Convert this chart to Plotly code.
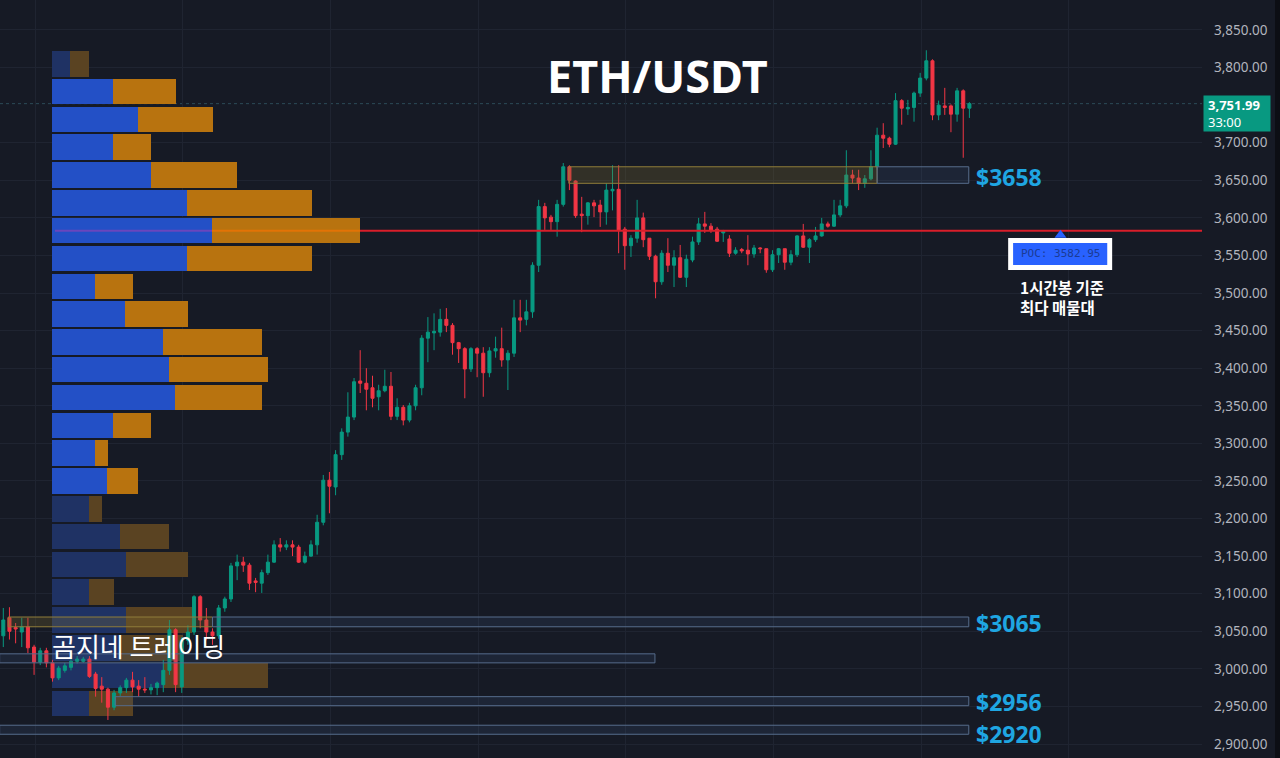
import plotly.graph_objects as go

# ---------------- hourly candles (ETH/USDT) ----------------
opens = [3044, 3068, 3055, 3049, 3056, 3029, 3009, 3024, 3008, 2988,
         2998, 3002, 3010, 3010, 3013, 2993, 2977, 2973, 2949, 2968,
         2975, 2985, 2977, 2973, 2972, 2975, 2979, 2998, 3052, 2976,
         3038, 3049, 3096, 3065, 3049, 3044, 3081, 3093, 3137, 3142,
         3138, 3117, 3114, 3128, 3142, 3165, 3162, 3165, 3162, 3142,
         3150, 3165, 3195, 3251, 3242, 3285, 3315, 3335, 3383, 3380,
         3374, 3362, 3370, 3376, 3336, 3348, 3331, 3350, 3374, 3440,
         3447, 3448, 3465, 3457, 3434, 3426, 3399, 3426, 3420, 3394,
         3423, 3426, 3411, 3420, 3467, 3465, 3475, 3537, 3615, 3601,
         3595, 3618, 3668, 3649, 3605, 3603, 3620, 3617, 3608, 3636,
         3638, 3585, 3563, 3573, 3600, 3573, 3549, 3515, 3553, 3537,
         3547, 3521, 3544, 3568, 3592, 3589, 3585, 3580, 3572, 3553,
         3558, 3557, 3552, 3560, 3559, 3531, 3551, 3559, 3541, 3551,
         3576, 3561, 3571, 3576, 3592, 3589, 3604, 3616, 3657, 3653,
         3646, 3652, 3668, 3710, 3706, 3698, 3756, 3745, 3747, 3766,
         3786, 3809, 3737, 3749, 3749, 3738, 3769, 3746]
highs = [3081, 3082, 3061, 3068, 3068, 3032, 3028, 3028, 3012, 3004,
         3008, 3014, 3017, 3016, 3017, 2996, 2989, 2975, 2972, 2978,
         2988, 2996, 2985, 2989, 2980, 2983, 3012, 3065, 3054, 3042,
         3058, 3098, 3098, 3081, 3054, 3085, 3096, 3141, 3152, 3149,
         3141, 3121, 3132, 3152, 3171, 3174, 3171, 3171, 3165, 3156,
         3171, 3205, 3258, 3262, 3291, 3320, 3368, 3387, 3424, 3400,
         3390, 3378, 3398, 3395, 3360, 3351, 3354, 3378, 3444, 3468,
         3473, 3479, 3480, 3460, 3435, 3428, 3428, 3428, 3428, 3428,
         3442, 3454, 3424, 3491, 3491, 3491, 3541, 3624, 3620, 3604,
         3624, 3673, 3670, 3650, 3628, 3621, 3624, 3624, 3646, 3670,
         3670, 3588, 3577, 3624, 3607, 3573, 3551, 3557, 3573, 3557,
         3564, 3551, 3575, 3600, 3608, 3593, 3588, 3584, 3577, 3561,
         3560, 3577, 3564, 3561, 3559, 3557, 3560, 3559, 3557, 3577,
         3592, 3573, 3588, 3600, 3595, 3624, 3624, 3690, 3664, 3664,
         3657, 3690, 3720, 3726, 3708, 3766, 3758, 3757, 3768, 3793,
         3823, 3811, 3756, 3773, 3751, 3773, 3771, 3754]
lows = [3029, 3039, 3034, 3029, 3021, 2992, 3005, 3002, 2983, 2985,
        2995, 2998, 3007, 3008, 2988, 2963, 2955, 2932, 2945, 2964,
        2968, 2969, 2963, 2968, 2966, 2965, 2969, 2992, 2969, 2968,
        3032, 3045, 3054, 3038, 3032, 3040, 3076, 3089, 3118, 3129,
        3105, 3102, 3101, 3125, 3141, 3156, 3158, 3150, 3141, 3140,
        3149, 3152, 3191, 3207, 3231, 3278, 3309, 3331, 3367, 3344,
        3348, 3344, 3368, 3331, 3331, 3324, 3328, 3344, 3364, 3408,
        3424, 3442, 3448, 3418, 3407, 3360, 3395, 3388, 3362, 3388,
        3414, 3402, 3371, 3415, 3448, 3457, 3467, 3528, 3584, 3584,
        3575, 3615, 3637, 3600, 3581, 3591, 3601, 3588, 3591, 3610,
        3553, 3531, 3548, 3567, 3561, 3544, 3493, 3511, 3528, 3508,
        3520, 3508, 3541, 3564, 3580, 3580, 3568, 3568, 3548, 3551,
        3553, 3537, 3547, 3553, 3527, 3528, 3540, 3531, 3537, 3548,
        3560, 3540, 3568, 3575, 3587, 3588, 3601, 3613, 3646, 3637,
        3640, 3650, 3664, 3693, 3694, 3697, 3724, 3737, 3728, 3761,
        3783, 3730, 3730, 3737, 3714, 3728, 3680, 3733]
closes = [3065, 3050, 3053, 3056, 3028, 3009, 3024, 3008, 2988, 3001,
          3004, 3010, 3013, 3013, 2990, 2974, 2973, 2949, 2968, 2975,
          2985, 2976, 2973, 2972, 2975, 2981, 2998, 3052, 2979, 3038,
          3049, 3096, 3065, 3049, 3044, 3081, 3093, 3137, 3142, 3138,
          3114, 3115, 3128, 3142, 3165, 3162, 3165, 3162, 3142, 3150,
          3165, 3195, 3251, 3243, 3285, 3315, 3335, 3382, 3380, 3372,
          3360, 3370, 3376, 3336, 3348, 3331, 3350, 3374, 3440, 3448,
          3449, 3465, 3457, 3434, 3426, 3399, 3426, 3420, 3394, 3423,
          3426, 3411, 3420, 3467, 3464, 3475, 3537, 3615, 3600, 3595,
          3618, 3668, 3650, 3603, 3603, 3620, 3616, 3608, 3637, 3638,
          3584, 3563, 3573, 3600, 3571, 3549, 3515, 3553, 3537, 3547,
          3521, 3545, 3568, 3592, 3589, 3584, 3569, 3582, 3553, 3557,
          3556, 3552, 3560, 3559, 3531, 3551, 3559, 3541, 3551, 3576,
          3561, 3571, 3576, 3592, 3589, 3604, 3616, 3657, 3653, 3646,
          3652, 3668, 3710, 3706, 3698, 3756, 3746, 3747, 3766, 3786,
          3809, 3737, 3750, 3747, 3738, 3769, 3746, 3751.99]
candle_idx = list(range(len(opens)))

# ---------------- volume profile (buy / sell per price row) ----------------
profile_prices = [3805, 3768, 3731, 3694, 3657, 3620, 3583, 3546, 3509, 3472, 3435, 3398,
                  3361, 3324, 3287, 3250, 3213, 3176, 3139, 3102, 3065, 3028, 2991, 2954]
buy_vol = [18, 61, 86, 61, 99, 135, 160, 135, 43, 73, 111, 117,
           123, 61, 43, 55, 37, 68, 74, 37, 74, 68, 111, 37]
sell_vol = [19, 63, 75, 38, 86, 125, 148, 125, 38, 63, 99, 99,
            87, 38, 13, 31, 13, 49, 62, 25, 66, 63, 105, 44]
in_value_area = [False] + [True] * 15 + [False] * 8
poc_price = 3582.95
last_price = 3751.99
countdown = "33:00"

# price-axis tick labels (3,750 sits under the last-price tag)
tick_values = [2900, 2950, 3000, 3050, 3100, 3150, 3200, 3250, 3300, 3350,
               3400, 3450, 3500, 3550, 3600, 3650, 3700, 3800, 3850]

# ---------------- support / resistance zones ----------------
zone_low = [3646, 3646, 3056, 3056, 3008, 2951, 2913]
zone_high = [3668, 3668, 3069, 3069, 3020, 2963, 2925]
zone_start = [91.9, 142.0, 0.8, 34.0, -0.6, 18.2, -0.6]
zone_end = [142.0, 156.9, 34.0, 156.9, 105.9, 156.9, 156.9]
zone_kind = ["gold", "blue", "gold", "blue", "blue", "blue", "blue"]
level_labels = ["$3658", "$3065", "$2956", "$2920"]
level_label_prices = [3654, 3061, 2956, 2914]

BG = "#161a25"
GRID = "#1f2431"
UP = "#089981"
DOWN = "#f23645"
BLUE_BRIGHT = "#2350c6"
ORANGE_BRIGHT = "#b8730f"
BLUE_DIM = "#1f3264"
ORANGE_DIM = "#5a4322"

PLOT_W = 1202
PROFILE_X0 = 52            # left edge of the profile, px
CANDLE_STEP = 6.154        # px per candle
X_MIN, X_MAX = -0.536, 194.8
Y_MIN, Y_MAX = 2881.4, 3889.9

fig = go.Figure()

# volume profile on the base x axis (under the candles)
fig.add_trace(go.Bar(
    y=profile_prices, x=buy_vol, orientation="h", xaxis="x", yaxis="y",
    width=34, marker=dict(color=[BLUE_BRIGHT if v else BLUE_DIM for v in in_value_area], line=dict(width=0)),
    hoverinfo="skip", showlegend=False))
fig.add_trace(go.Bar(
    y=profile_prices, x=sell_vol, orientation="h", xaxis="x", yaxis="y",
    width=34, marker=dict(color=[ORANGE_BRIGHT if v else ORANGE_DIM for v in in_value_area], line=dict(width=0)),
    hoverinfo="skip", showlegend=False))

# candles on the overlaying axis (drawn above the profile)
fig.add_trace(go.Candlestick(
    x=candle_idx, open=opens, high=highs, low=lows, close=closes, xaxis="x2", yaxis="y",
    increasing=dict(line=dict(color=UP, width=1), fillcolor=UP),
    decreasing=dict(line=dict(color=DOWN, width=1), fillcolor=DOWN),
    whiskerwidth=0, hoverinfo="skip", showlegend=False))

shapes = []
# last price dotted line
shapes.append(dict(type="line", xref="paper", yref="y", x0=0, x1=1, y0=last_price, y1=last_price,
                   line=dict(color="#2c4b58", width=1, dash="dot"), layer="between"))

# zones
for lo, hi, s, e, k in zip(zone_low, zone_high, zone_start, zone_end, zone_kind):
    if k == "gold":
        lc, fc = "#8f7c3a", "rgba(125,108,45,0.28)"
    else:
        lc, fc = "#566c8c", "rgba(70,100,140,0.16)"
    shapes.append(dict(type="rect", xref="x2", yref="y", x0=s, x1=e, y0=lo, y1=hi,
                       line=dict(color=lc, width=1), fillcolor=fc, layer="above"))

# POC line: tinted through the POC row, red beyond it
poc_row = profile_prices.index(min(profile_prices, key=lambda p: abs(p - poc_price)))
b_end = buy_vol[poc_row]
s_end = b_end + sell_vol[poc_row]
shapes.append(dict(type="line", xref="x", yref="y", x0=3, x1=b_end, y0=poc_price, y1=poc_price,
                   line=dict(color="#6a46bd", width=2), layer="above"))
shapes.append(dict(type="line", xref="x", yref="y", x0=b_end, x1=s_end, y0=poc_price, y1=poc_price,
                   line=dict(color="#e27306", width=2), layer="above"))
shapes.append(dict(type="line", xref="x", yref="y", x0=s_end, x1=PLOT_W - PROFILE_X0, y0=poc_price, y1=poc_price,
                   line=dict(color="#d81e2a", width=2), layer="above"))

# POC callout box
shapes.append(dict(type="rect", xref="x2", yref="y", x0=163.3, x1=180.2, y0=3530.7, y1=3573.3,
                   line=dict(width=0), fillcolor="#ffffff", layer="above"))
shapes.append(dict(type="rect", xref="x2", yref="y", x0=164.1, x1=179.4, y0=3537.3, y1=3566.6,
                   line=dict(width=0), fillcolor="#2962ff", layer="above"))
shapes.append(dict(type="path", xref="x2", yref="y", xsizemode="pixel", ysizemode="pixel",
                   xanchor=171.8, yanchor=poc_price, path="M -6,-7 L 6,-7 L 0,1 Z",
                   fillcolor="#2962ff", line=dict(width=0), layer="above"))

# right edge strip
shapes.append(dict(type="rect", xref="paper", yref="paper", x0=1275 / PLOT_W, x1=1280 / PLOT_W, y0=0, y1=1,
                   fillcolor="#0c0e14", line=dict(width=0), layer="above"))

annotations = []
annotations.append(dict(text="<b>ETH/USDT</b>", xref="paper", yref="paper", x=657 / PLOT_W, y=1 - 76 / 758,
                        showarrow=False, xanchor="center", yanchor="middle",
                        font=dict(family="Noto Sans", size=45, color="#ffffff")))
annotations.append(dict(text="곰지네 트레이딩", xref="paper", yref="paper", x=50 / PLOT_W, y=1 - 645 / 758,
                        showarrow=False, xanchor="left", yanchor="middle",
                        font=dict(family="Noto Sans CJK KR", size=26, color="#ffffff")))
for lab, p in zip(level_labels, level_label_prices):
    annotations.append(dict(text="<b>" + lab + "</b>", xref="x2", yref="y", x=157.8, y=p,
                            showarrow=False, xanchor="left", yanchor="middle",
                            font=dict(family="Noto Sans", size=23, color="#1fa6e2")))
annotations.append(dict(text="POC: " + f"{poc_price:.2f}", xref="x2", yref="y", x=171.8, y=3552,
                        showarrow=False, xanchor="center", yanchor="middle",
                        font=dict(family="DejaVu Sans Mono", size=11, color="#1b3b94")))
annotations.append(dict(text="1시간봉 기준<br>최다 매물대", xref="paper", yref="paper", x=1018 / PLOT_W,
                        y=1 - 274 / 758, showarrow=False, xanchor="left", yanchor="top", align="left",
                        font=dict(family="Noto Sans CJK KR", size=15.5, color="#ffffff", weight="bold")))
annotations.append(dict(text="<b>" + f"{last_price:,.2f}" + "</b><br>" + countdown, xref="paper", yref="y",
                        x=1.0, y=last_price, xshift=1, yshift=9, showarrow=False,
                        xanchor="left", yanchor="top", align="left",
                        bgcolor=UP, borderpad=4, width=58, height=27,
                        font=dict(family="Noto Sans", size=13, color="#ffffff")))

fig.update_layout(
    width=1280, height=758,
    margin=dict(l=0, r=1280 - PLOT_W, t=0, b=0),
    paper_bgcolor=BG, plot_bgcolor=BG,
    barmode="stack", bargap=0,
    shapes=shapes, annotations=annotations,
    # base axis: profile volume, 1 unit = 1 px; grid every 24 candles
    xaxis=dict(range=[-PROFILE_X0, PLOT_W - PROFILE_X0], showticklabels=False, ticks="", showgrid=True,
               gridcolor=GRID, tick0=(X_MIN + 5.69) * CANDLE_STEP - PROFILE_X0 - X_MIN * CANDLE_STEP,
               dtick=24 * CANDLE_STEP, zeroline=False, showline=False, automargin=False, fixedrange=True),
    xaxis2=dict(range=[X_MIN, X_MAX], overlaying="x", visible=False, automargin=False,
                rangeslider=dict(visible=False), fixedrange=True),
    yaxis=dict(range=[Y_MIN, Y_MAX], side="right", tickmode="array", tickvals=tick_values,
               tickformat=",.2f", showgrid=True, gridcolor=GRID, zeroline=False, showline=False,
               ticks="", ticklabelstandoff=11, automargin=False, fixedrange=True,
               tickfont=dict(family="Noto Sans", size=13.5, color="#b2b5be")),
    showlegend=False,
)

fig.write_html(
    "out.html",
    config={"displayModeBar": False, "staticPlot": True},
    post_script="document.body.style.margin='0';document.body.style.background='" + BG + "';"
                "document.body.style.overflow='hidden';",
)
